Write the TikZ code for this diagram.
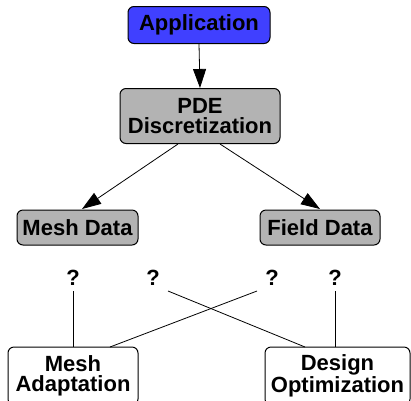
\documentclass[tikz,border=0pt]{standalone}
\usepackage{fontspec}
\setmainfont{Liberation Sans}
\usetikzlibrary{arrows.meta}
\definecolor{appblue}{HTML}{4040FF}
\definecolor{boxgray}{HTML}{B3B3B3}
\begin{document}
\begin{tikzpicture}[x=1pt,y=-1pt,
  box/.style={draw=black, line width=1pt, rounded corners=6pt, align=center,
    inner sep=0pt, font=\fontsize{22}{20}\selectfont\bfseries},
  qm/.style={inner sep=0pt, font=\fontsize{22}{20}\selectfont\bfseries},
  conn/.style={line width=0.8pt},
  arr/.style={line width=0.8pt, -{Triangle[length=19pt,width=13pt]}}]
\clip (0,0) rectangle (411,400);
\useasboundingbox (0,0) rectangle (411,400);
\node[box, fill=appblue, minimum width=142pt, minimum height=37pt] (app) at (199,25) {Application};
\node[box, fill=boxgray, minimum width=160pt, minimum height=55pt] (pde) at (200,116) {PDE\\Discretization};
\node[box, fill=boxgray, minimum width=121pt, minimum height=35pt] (mesh) at (77.5,227.5) {Mesh Data};
\node[box, fill=boxgray, minimum width=120pt, minimum height=35pt] (field) at (320,227.5) {Field Data};
\node[box, fill=white, minimum width=130pt, minimum height=58pt] (ma) at (73,376) {Mesh\\Adaptation};
\node[box, fill=white, minimum width=145pt, minimum height=58pt] (do) at (337.5,376) {Design\\Optimization};
\node[qm] (q1) at (73,278) {?};
\node[qm] (q2) at (153,278) {?};
\node[qm] (q3) at (272,278) {?};
\node[qm] (q4) at (335,278) {?};
\coordinate (c2) at (168,291);
\coordinate (c3) at (257,291);
\coordinate (d2) at (305,347);
\coordinate (m3) at (110,347);
\coordinate (p1) at (178,144);
\coordinate (p2) at (220,144);
\coordinate (t1) at (82,209);
\coordinate (t2) at (320,209);
\draw[arr] (app.south) -- (pde.north);
\draw[arr] (p1) -- (t1);
\draw[arr] (p2) -- (t2);
\draw[conn] (q1.south |- c2) -- (q1.south |- ma.north);
\draw[conn] (q4.south |- c2) -- (q4.south |- do.north);
\draw[conn] (c2) -- (d2);
\draw[conn] (c3) -- (m3);
\end{tikzpicture}
\end{document}
